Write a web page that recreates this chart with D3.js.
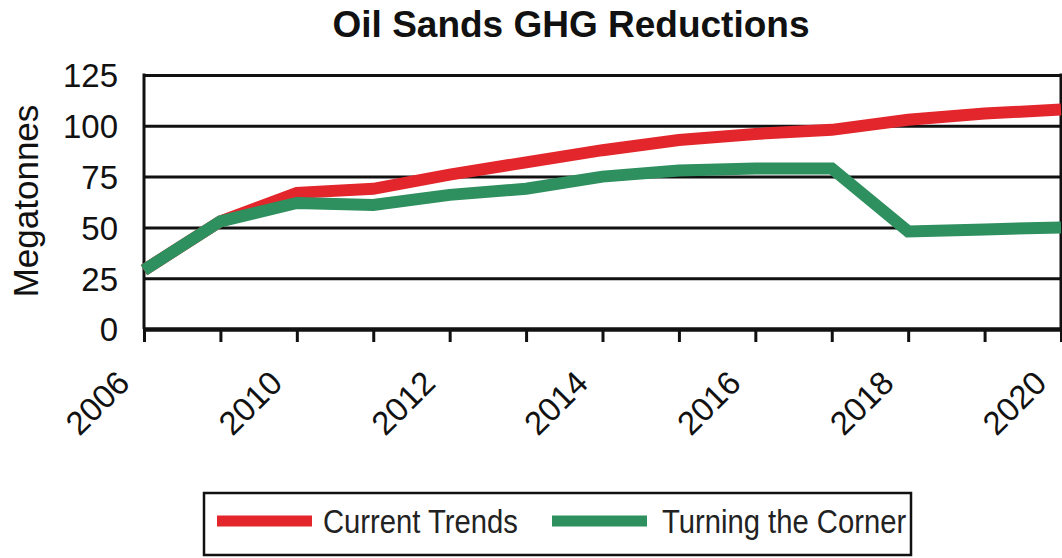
<!DOCTYPE html>
<html>
<head>
<meta charset="utf-8">
<script src="https://cdn.jsdelivr.net/npm/d3@7/dist/d3.min.js"></script>
<style>
  html, body { margin: 0; padding: 0; background: #fff; }
  svg { display: block; }
  text { font-family: "Liberation Sans", Arial, Helvetica, sans-serif; fill: #111; }
</style>
</head>
<body>
<svg id="chart" width="1062" height="558"></svg>
<script>
// Years on the category axis (one point per year)
const years = ["2006", "2008", "2010", "2011", "2012", "2013", "2014",
               "2015", "2016", "2017", "2018", "2019", "2020"];
// Years that carry a tick label
const yearLabels = ["2006", "2010", "2012", "2014", "2016", "2018", "2020"];
// Emissions in megatonnes
const currentTrends = [29, 53, 67, 69, 76, 82, 88, 93, 96, 98, 103, 106, 108];
const turningTheCorner = [29, 53, 62, 61, 66, 69, 75, 78, 79, 79, 48, 49, 50];
const yTicks = [0, 25, 50, 75, 100, 125];
const seriesNames = ["Current Trends", "Turning the Corner"];
const seriesColors = ["#e3262b", "#2e8f5f"];

const svg = d3.select("#chart");
const plotLeft = 144, plotRight = 1061, plotTop = 75, plotBottom = 329;

const x = d3.scalePoint().domain(years).range([plotLeft, plotRight]);
const y = d3.scaleLinear().domain([0, 125]).range([plotBottom, plotTop]);

// Title
svg.append("text")
  .attr("x", 571).attr("y", 37)
  .attr("text-anchor", "middle")
  .style("font-size", "37px").style("font-weight", "bold")
  .text("Oil Sands GHG Reductions");

// Horizontal gridlines with value labels
const yAxis = svg.append("g")
  .attr("transform", `translate(${plotLeft},0)`)
  .call(d3.axisLeft(y).tickValues(yTicks).tickSize(-(plotRight - plotLeft)).tickPadding(26));
yAxis.select(".domain").remove();
yAxis.selectAll(".tick line").attr("stroke", "#111").attr("stroke-width", 3);
yAxis.selectAll(".tick text")
  .attr("dy", "0.36em")
  .style("font-size", "33px").style("fill", "#111");

// Left axis line and right frame edge
svg.append("line")
  .attr("x1", plotLeft).attr("x2", plotLeft).attr("y1", y(125) - 1.5).attr("y2", plotBottom)
  .attr("stroke", "#111").attr("stroke-width", 3);
svg.append("line")
  .attr("x1", plotRight).attr("x2", plotRight).attr("y1", y(125) - 1.5).attr("y2", plotBottom)
  .attr("stroke", "#111").attr("stroke-width", 3);

// Category axis
const xAxis = svg.append("g")
  .attr("transform", `translate(0,${plotBottom})`)
  .call(d3.axisBottom(x).tickSize(13).tickSizeOuter(0)
    .tickFormat(d => yearLabels.includes(d) ? d : ""));
xAxis.select(".domain").attr("stroke", "#111").attr("stroke-width", 4.5);
xAxis.selectAll(".tick line").attr("stroke", "#111").attr("stroke-width", 3);
xAxis.selectAll(".tick text")
  .attr("y", 0).attr("dy", 0)
  .attr("text-anchor", "end")
  .attr("transform", "translate(-13,56) rotate(-45)")
  .style("font-size", "33px").style("fill", "#111");

// Y axis title
svg.append("text")
  .attr("transform", "translate(38,201) rotate(-90)")
  .attr("text-anchor", "middle")
  .style("font-size", "35px")
  .text("Megatonnes");

// Series lines
const line = d3.line()
  .x((d, i) => x(years[i]))
  .y(d => y(d));

[currentTrends, turningTheCorner].forEach((values, k) => {
  svg.append("path")
    .datum(values)
    .attr("d", line)
    .attr("fill", "none")
    .attr("stroke", seriesColors[k])
    .attr("stroke-width", 12)
    .attr("stroke-linejoin", "miter")
    .attr("stroke-linecap", "butt");
});

// Legend
const legend = svg.append("g");
legend.append("rect")
  .attr("x", 204).attr("y", 493).attr("width", 707).attr("height", 62)
  .attr("fill", "#fff").attr("stroke", "#111").attr("stroke-width", 2.5);

const legendItems = [
  { sx: 217, tx: 323 },
  { sx: 552, tx: 662 }
];
legendItems.forEach((it, k) => {
  legend.append("line")
    .attr("x1", it.sx).attr("x2", it.sx + 95)
    .attr("y1", 521).attr("y2", 521)
    .attr("stroke", seriesColors[k]).attr("stroke-width", 11);
  legend.append("text")
    .attr("transform", `translate(${it.tx},533) scale(0.86,1)`)
    .style("font-size", "34px").style("fill", "#222")
    .text(seriesNames[k]);
});
</script>
</body>
</html>
